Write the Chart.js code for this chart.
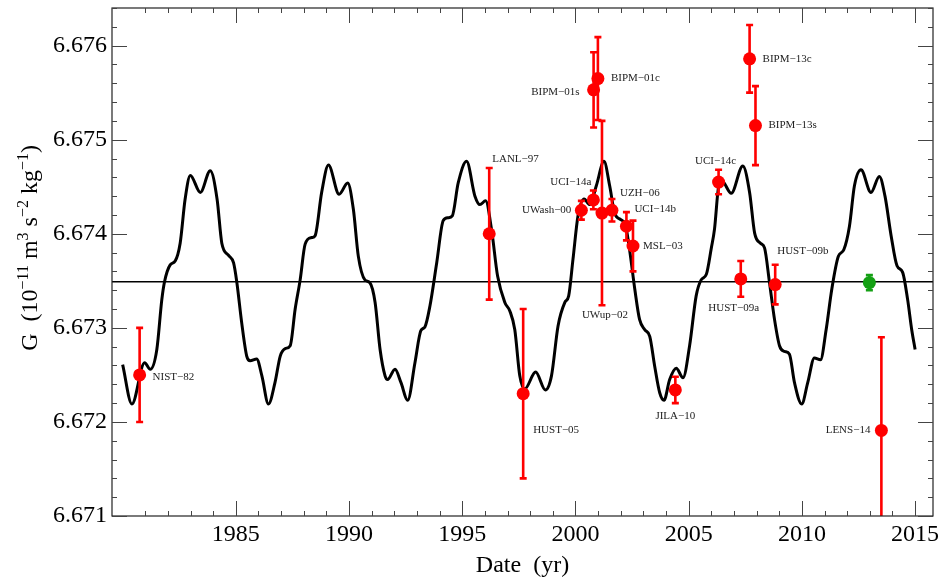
<!DOCTYPE html>
<html>
<head>
<meta charset="utf-8">
<script src="https://cdn.jsdelivr.net/npm/chart.js@4.4.1/dist/chart.umd.min.js"></script>
<style>
  html, body { margin: 0; padding: 0; background: #fff; }
  #wrap { width: 943px; height: 579px; }
</style>
</head>
<body>
<div id="wrap"><canvas id="gChart" width="943" height="579"></canvas></div>
<script>
// --- data ---
const xMin = 1979.53, xMax = 2015.79;
const yMin = 6.671, yMax = 6.6764;
const xTicks = [1985, 1990, 1995, 2000, 2005, 2010, 2015];
const yTicks = [6.671, 6.672, 6.673, 6.674, 6.675, 6.676];

const meanG = 6.67349;

// measurements (red)
const expNames = ['NIST−82', 'LANL−97', 'HUST−05', 'BIPM−01s', 'BIPM−01c', 'UWash−00', 'UCI−14a', 'UWup−02', 'UZH−06',
  'UCI−14b', 'MSL−03', 'JILA−10', 'UCI−14c', 'BIPM−13c', 'BIPM−13s', 'HUST−09a', 'HUST−09b', 'LENS−14'];
const expYears = [1980.75, 1996.19, 1997.69, 2000.80, 2000.99, 2000.26, 2000.79, 2001.17, 2001.61,
  2002.25, 2002.54, 2004.41, 2006.32, 2007.69, 2007.95, 2007.30, 2008.82, 2013.51];
const expG = [6.6725, 6.6740, 6.6723, 6.67553, 6.67565, 6.67425, 6.67436, 6.67422, 6.67425,
  6.67408, 6.67387, 6.67234, 6.67455, 6.67586, 6.67515, 6.67352, 6.67346, 6.67191];
const expErr = [0.0005, 0.0007, 0.0009, 0.0004, 0.00044, 0.0001, 0.0001, 0.00098, 0.00012,
  0.00015, 0.00027, 0.00014, 0.00013, 0.00036, 0.00042, 0.00019, 0.00021, 0.00099];

// green point
const greenYear = [2012.98];
const greenG = [6.67348];
const greenErr = [0.00008];

// black periodic curve, traced
const curveYears = [1980.00, 1980.41, 1980.97, 1981.22, 1981.51, 1981.73, 1981.85, 1982.10, 1982.32, 1982.54,
  1982.76, 1982.99, 1983.43, 1983.87, 1984.17, 1984.38, 1984.68, 1984.90, 1985.04, 1985.26,
  1985.48, 1985.63, 1985.92, 1986.15, 1986.44, 1986.73, 1986.96, 1987.18, 1987.40, 1987.62,
  1987.84, 1988.06, 1988.35, 1988.50, 1988.79, 1989.09, 1989.56, 1989.94, 1990.19, 1990.41,
  1990.70, 1990.92, 1991.15, 1991.37, 1991.59, 1991.70, 1992.03, 1992.29, 1992.59, 1992.91,
  1993.17, 1993.35, 1993.57, 1993.87, 1994.16, 1994.38, 1994.56, 1994.82, 1995.19, 1995.56,
  1995.78, 1996.03, 1996.29, 1996.56, 1996.88, 1997.10, 1997.32, 1997.54, 1997.76, 1998.24,
  1998.67, 1998.94, 1999.23, 1999.53, 1999.70, 1999.89, 2000.11, 2000.38, 2000.63, 2000.92,
  2001.26, 2001.51, 2001.73, 2002.00, 2002.20, 2002.39, 2002.62, 2002.83, 2003.06, 2003.28,
  2003.50, 2003.72, 2003.91, 2004.16, 2004.45, 2004.75, 2005.04, 2005.33, 2005.55, 2005.78,
  2006.00, 2006.14, 2006.32, 2006.47, 2006.88, 2007.39, 2007.69, 2007.91, 2008.17, 2008.35,
  2008.57, 2008.79, 2009.01, 2009.23, 2009.45, 2009.67, 2009.99, 2010.26, 2010.55, 2010.82,
  2011.07, 2011.32, 2011.61, 2011.85, 2012.10, 2012.32, 2012.61, 2013.05, 2013.42, 2013.67,
  2013.94, 2014.20, 2014.45, 2014.67, 2014.85, 2015.00];
const curveG = [6.67261, 6.67219, 6.67263, 6.67256, 6.67277, 6.67330, 6.67349, 6.67367, 6.67371, 6.67390,
  6.67437, 6.67462, 6.67444, 6.67467, 6.67437, 6.67390, 6.67377, 6.67369, 6.67349, 6.67305,
  6.67270, 6.67265, 6.67267, 6.67249, 6.67219, 6.67242, 6.67270, 6.67278, 6.67281, 6.67320,
  6.67351, 6.67389, 6.67396, 6.67398, 6.67444, 6.67473, 6.67442, 6.67454, 6.67426, 6.67376,
  6.67351, 6.67348, 6.67327, 6.67277, 6.67249, 6.67245, 6.67256, 6.67242, 6.67223, 6.67263,
  6.67297, 6.67301, 6.67323, 6.67369, 6.67414, 6.67417, 6.67419, 6.67454, 6.67477, 6.67440,
  6.67431, 6.67435, 6.67405, 6.67355, 6.67327, 6.67318, 6.67298, 6.67249, 6.67235, 6.67253,
  6.67234, 6.67249, 6.67302, 6.67327, 6.67334, 6.67373, 6.67419, 6.67437, 6.67431, 6.67451,
  6.67477, 6.67451, 6.67422, 6.67415, 6.67410, 6.67383, 6.67341, 6.67309, 6.67298, 6.67291,
  6.67259, 6.67231, 6.67223, 6.67245, 6.67257, 6.67247, 6.67281, 6.67334, 6.67351, 6.67357,
  6.67385, 6.67405, 6.67450, 6.67456, 6.67443, 6.67472, 6.67444, 6.67401, 6.67390, 6.67385,
  6.67348, 6.67309, 6.67281, 6.67275, 6.67272, 6.67242, 6.67219, 6.67242, 6.67268, 6.67266,
  6.67298, 6.67341, 6.67376, 6.67383, 6.67408, 6.67451, 6.67468, 6.67444, 6.67461, 6.67440,
  6.67398, 6.67366, 6.67359, 6.67330, 6.67298, 6.67277];

// where each label sits relative to its point: [dx, dy, align]
const labelPlacement = [
  [13, 2, 'left'], [3, -75, 'left'], [10, 36, 'left'], [-14, 2, 'right'], [13, 0, 'left'],
  [-10, 0, 'right'], [-2, -18, 'right'], [3, 102, 'center'], [8, -17, 'left'],
  [8, -17, 'left'], [10, 0, 'left'], [0, 26, 'center'], [-3, -21, 'center'], [13, 0, 'left'],
  [13, 0, 'left'], [-7, 29, 'center'], [2, -33, 'left'], [-11, 0, 'right']
];

const serif = '"Liberation Serif", "DejaVu Serif", serif';
const RED = '#ff0000';
const GREEN = '#14a014';

// error bars under the points
const errorBars = {
  id: 'errorBars',
  beforeDatasetDraw(chart, args) {
    const ds = chart.data.datasets[args.index];
    if (!ds.errors) return;
    const { ctx, chartArea, scales: { x, y } } = chart;
    ctx.save();
    ctx.beginPath();
    ctx.rect(chartArea.left, chartArea.top, chartArea.right - chartArea.left, chartArea.bottom - chartArea.top);
    ctx.clip();
    ctx.strokeStyle = ds.backgroundColor;
    ctx.lineWidth = 2.6;
    ds.data.forEach((p, i) => {
      const px = x.getPixelForValue(p.x);
      const top = y.getPixelForValue(p.y + ds.errors[i]);
      const bot = y.getPixelForValue(p.y - ds.errors[i]);
      ctx.beginPath();
      ctx.moveTo(px, top); ctx.lineTo(px, bot);
      ctx.moveTo(px - 3.5, top); ctx.lineTo(px + 3.5, top);
      ctx.moveTo(px - 3.5, bot); ctx.lineTo(px + 3.5, bot);
      ctx.stroke();
    });
    ctx.restore();
  }
};

// frame, inside ticks, point names, y title with superscripts
const decorations = {
  id: 'decorations',
  afterDraw(chart) {
    const { ctx, chartArea: a, scales: { x, y } } = chart;
    ctx.save();
    ctx.strokeStyle = '#222';
    ctx.lineWidth = 1.2;
    ctx.strokeRect(a.left, a.top, a.right - a.left, a.bottom - a.top);

    ctx.strokeStyle = '#444';
    ctx.lineWidth = 1;
    ctx.beginPath();
    // x ticks (bottom and top)
    for (let yr = 1981; yr <= 2015; yr++) {
      const px = Math.round(x.getPixelForValue(yr)) + 0.5;
      const len = yr % 5 === 0 ? 15 : 5;
      ctx.moveTo(px, a.bottom); ctx.lineTo(px, a.bottom - len);
      ctx.moveTo(px, a.top); ctx.lineTo(px, a.top + len);
    }
    // y ticks (left and right)
    for (let k = 0; k <= 27; k++) {
      const v = yMin + k * 0.0002;
      if (v > yMax) break;
      const py = Math.round(y.getPixelForValue(v)) + 0.5;
      const len = k % 5 === 0 ? 15 : 5;
      ctx.moveTo(a.left, py); ctx.lineTo(a.left + len, py);
      ctx.moveTo(a.right, py); ctx.lineTo(a.right - len, py);
    }
    ctx.stroke();

    // experiment names
    ctx.fillStyle = '#222';
    ctx.font = '11px ' + serif;
    ctx.textBaseline = 'middle';
    expNames.forEach((name, i) => {
      const px = x.getPixelForValue(expYears[i]);
      const py = y.getPixelForValue(expG[i]);
      const [dx, dy, align] = labelPlacement[i];
      ctx.textAlign = align;
      ctx.fillText(name, px + dx, py + dy);
    });

    // y axis title
    const parts = [['G  (10', false], ['−11', true], [' m', false], ['3', true], [' s', false],
      ['−2', true], [' kg', false], ['−1', true], [')', false]];
    const big = '24px ' + serif, small = '16px ' + serif;
    let w = 0;
    parts.forEach(([t, sup]) => { ctx.font = sup ? small : big; w += ctx.measureText(t).width; });
    ctx.translate(37, 145 + w);
    ctx.rotate(-Math.PI / 2);
    ctx.fillStyle = '#000';
    ctx.textAlign = 'left';
    ctx.textBaseline = 'alphabetic';
    let cx = 0;
    parts.forEach(([t, sup]) => {
      ctx.font = sup ? small : big;
      ctx.fillText(t, cx, sup ? -9 : 0);
      cx += ctx.measureText(t).width;
    });
    ctx.restore();

    // x axis title
    ctx.save();
    ctx.fillStyle = '#000';
    ctx.font = '24px ' + serif;
    ctx.textAlign = 'center';
    ctx.textBaseline = 'middle';
    ctx.fillText('Date  (yr)', (a.left + a.right) / 2, 566);
    ctx.restore();
  }
};

new Chart(document.getElementById('gChart'), {
  type: 'scatter',
  data: {
    datasets: [
      {
        label: 'measurements',
        data: expYears.map((yr, i) => ({ x: yr, y: expG[i] })),
        errors: expErr,
        backgroundColor: RED,
        borderColor: RED,
        pointRadius: 6.5,
        pointBorderWidth: 0,
        order: 0
      },
      {
        label: 'mean',
        data: greenYear.map((yr, i) => ({ x: yr, y: greenG[i] })),
        errors: greenErr,
        backgroundColor: GREEN,
        borderColor: GREEN,
        pointRadius: 6.5,
        pointBorderWidth: 0,
        order: 1
      },
      {
        type: 'line',
        label: 'fit',
        data: curveYears.map((yr, i) => ({ x: yr, y: curveG[i] })),
        borderColor: '#000',
        borderWidth: 3,
        pointRadius: 0,
        cubicInterpolationMode: 'monotone',
        fill: false,
        order: 2
      },
      {
        type: 'line',
        label: 'average',
        data: [{ x: xMin, y: meanG }, { x: xMax, y: meanG }],
        borderColor: '#000',
        borderWidth: 1.5,
        pointRadius: 0,
        fill: false,
        order: 3
      }
    ]
  },
  options: {
    responsive: false,
    animation: false,
    devicePixelRatio: 1,
    layout: { padding: { left: 0, right: 10, top: 8, bottom: 0 } },
    plugins: { legend: { display: false }, tooltip: { enabled: false } },
    scales: {
      x: {
        type: 'linear',
        min: xMin,
        max: xMax,
        afterFit: s => { s.height = 63; s.paddingLeft = 0; s.paddingRight = 0; },
        afterBuildTicks: s => { s.ticks = xTicks.map(v => ({ value: v })); },
        grid: { display: false, drawTicks: false },
        border: { display: false },
        ticks: {
          autoSkip: false, maxRotation: 0, padding: 4, color: '#000',
          font: { family: serif, size: 24 },
          callback: v => String(v)
        }
      },
      y: {
        min: yMin,
        max: yMax,
        afterFit: s => { s.width = 112; s.paddingTop = 0; s.paddingBottom = 0; },
        afterBuildTicks: s => { s.ticks = yTicks.map(v => ({ value: v })); },
        grid: { display: false, drawTicks: false },
        border: { display: false },
        ticks: {
          autoSkip: false, padding: 5, color: '#000',
          font: { family: serif, size: 24 },
          callback: v => v.toFixed(3)
        }
      }
    }
  },
  plugins: [errorBars, decorations]
});
</script>
</body>
</html>
